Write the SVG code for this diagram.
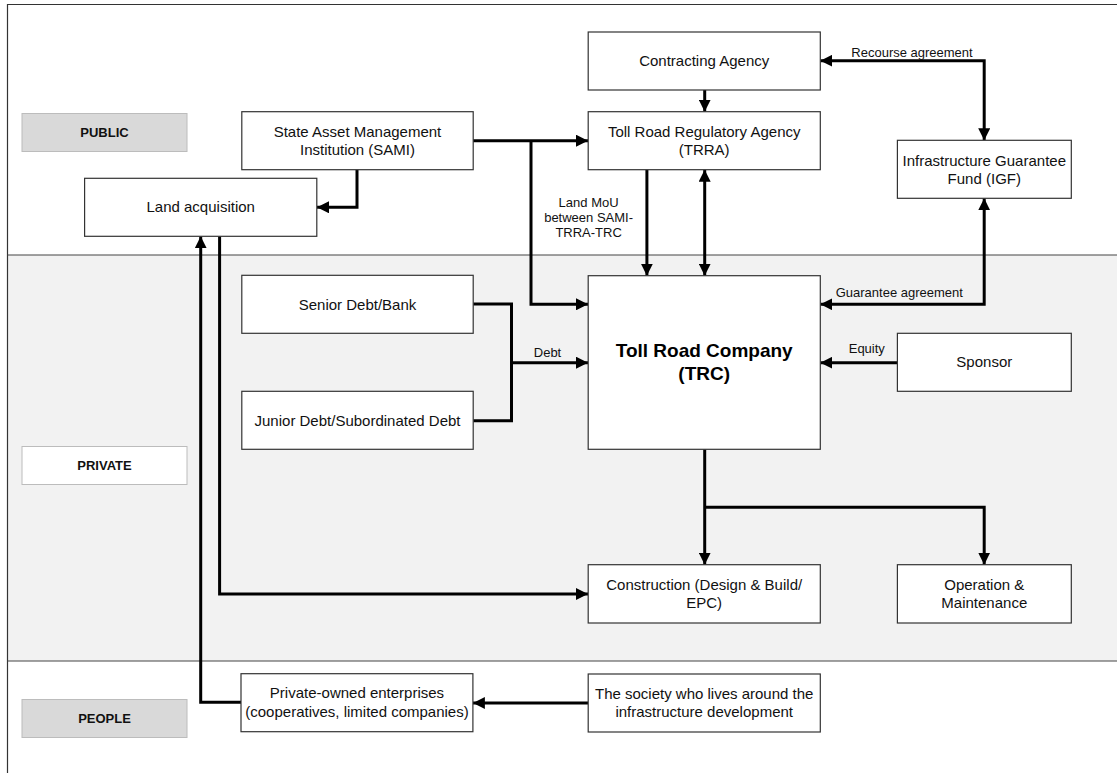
<svg xmlns="http://www.w3.org/2000/svg" width="1117" height="773" viewBox="0 0 1117 773">
<style>
.box{fill:#fff;stroke:#333;stroke-width:1.2}
.lane{stroke:#bcbcbc;stroke-width:1}
.t{font-family:"Liberation Sans",Arial,sans-serif;font-size:15px;fill:#111;text-anchor:middle}
.s{font-family:"Liberation Sans",Arial,sans-serif;font-size:13px;fill:#111;text-anchor:middle}
.lb{font-family:"Liberation Sans",Arial,sans-serif;font-size:13px;font-weight:bold;fill:#111;text-anchor:middle}
.big{font-family:"Liberation Sans",Arial,sans-serif;font-size:19px;font-weight:bold;fill:#000;text-anchor:middle}
.c{fill:none;stroke:#000;stroke-width:3;stroke-linejoin:miter}
.e{marker-end:url(#ah)}
.b{marker-start:url(#ah);marker-end:url(#ah)}
</style>
<defs>
<marker id="ah" markerUnits="userSpaceOnUse" markerWidth="12" markerHeight="12" refX="11" refY="5.5" orient="auto-start-reverse" viewBox="0 0 11 11">
<path d="M0,0 L11,5.5 L0,11 z" fill="#000"/>
</marker>
</defs>
<g id="background">
<rect x="0" y="0" width="1117" height="773" fill="#fff"/>
<rect x="7.5" y="255" width="1110" height="406" fill="#f2f2f2"/>
<path d="M7.5,773 V4.5 H1117" fill="none" stroke="#333" stroke-width="1.2"/>
<path d="M7.5,255 H1117 M7.5,661 H1117" fill="none" stroke="#444" stroke-width="1.2"/>
</g>
<g id="lane-public">
<rect class="lane" x="22" y="113.5" width="165" height="38" fill="#d9d9d9"/>
<text class="lb" x="104.5" y="137">PUBLIC</text>
</g>
<g id="lane-private">
<rect class="lane" x="22" y="446.5" width="165" height="38" fill="#fff"/>
<text class="lb" x="104.5" y="470">PRIVATE</text>
</g>
<g id="lane-people">
<rect class="lane" x="22" y="699.5" width="165" height="38" fill="#d9d9d9"/>
<text class="lb" x="104.5" y="723">PEOPLE</text>
</g>
<g id="connectors">
<path class="c e" d="M473,140.7 H588"/>
<path class="c e" d="M531,140.7 V304.3 H588"/>
<path class="c e" d="M357,169.7 V207.3 H317"/>
<path class="c e" d="M219.6,236.3 V594 H588"/>
<path class="c e" d="M241,702.3 H200.7 V236.3"/>
<path class="c e" d="M704.7,90 V111.7"/>
<path class="c b" d="M820.3,60.7 H984.2 V140.3"/>
<path class="c e" d="M646.9,169.7 V275.7"/>
<path class="c b" d="M704.7,169.7 V275.7"/>
<path class="c b" d="M984.2,198.3 V304.3 H820.3"/>
<path class="c e" d="M897.4,362.7 H820.3"/>
<path class="c" d="M473.2,304 H511.5 V420.7 H473.2"/>
<path class="c e" d="M511.5,362.7 H588"/>
<path class="c e" d="M704.7,449.3 V564.7"/>
<path class="c e" d="M704.7,507.3 H984.2 V564.7"/>
<path class="c e" d="M588.2,703 H472.9"/>
<text class="s" x="912" y="56.5">Recourse agreement</text>
<text class="s" x="588.6" y="206.5">Land MoU</text>
<text class="s" x="588.6" y="222">between SAMI-</text>
<text class="s" x="588.6" y="237">TRRA-TRC</text>
<text class="s" x="899.3" y="297">Guarantee agreement</text>
<text class="s" x="866.8" y="353">Equity</text>
<text class="s" x="547.5" y="356.5">Debt</text>
</g>
<g id="sami">
<rect class="box" x="241.8" y="111.7" width="231.4" height="58"/>
<text class="t" x="357.5" y="136.5">State Asset Management</text>
<text class="t" x="357.5" y="154.5">Institution (SAMI)</text>
</g>
<g id="land-acquisition">
<rect class="box" x="84.6" y="178.3" width="232.2" height="58"/>
<text class="t" x="200.7" y="212">Land acquisition</text>
</g>
<g id="contracting-agency">
<rect class="box" x="588.2" y="32" width="232.1" height="58"/>
<text class="t" x="704.2" y="66">Contracting Agency</text>
</g>
<g id="trra">
<rect class="box" x="588.2" y="111.7" width="232.1" height="58"/>
<text class="t" x="704.2" y="136.5">Toll Road Regulatory Agency</text>
<text class="t" x="704.2" y="154.5">(TRRA)</text>
</g>
<g id="igf">
<rect class="box" x="897.4" y="140.3" width="173.9" height="58"/>
<text class="t" x="984.3" y="165.5">Infrastructure Guarantee</text>
<text class="t" x="984.3" y="183.5">Fund (IGF)</text>
</g>
<g id="trc">
<rect class="box" x="588.2" y="275.7" width="232.1" height="173.6"/>
<text class="big" x="704.2" y="356.5">Toll Road Company</text>
<text class="big" x="704.2" y="380">(TRC)</text>
</g>
<g id="senior-debt">
<rect class="box" x="241.8" y="275.3" width="231.4" height="58"/>
<text class="t" x="357.5" y="309.5">Senior Debt/Bank</text>
</g>
<g id="junior-debt">
<rect class="box" x="241.8" y="391.3" width="231.4" height="58"/>
<text class="t" x="357.5" y="425.5">Junior Debt/Subordinated Debt</text>
</g>
<g id="sponsor">
<rect class="box" x="897.4" y="333.3" width="173.9" height="58"/>
<text class="t" x="984.3" y="367">Sponsor</text>
</g>
<g id="construction">
<rect class="box" x="588.2" y="564.7" width="232.1" height="58.3"/>
<text class="t" x="704.2" y="590">Construction (Design &amp; Build/</text>
<text class="t" x="704.2" y="608">EPC)</text>
</g>
<g id="operation-maintenance">
<rect class="box" x="897.4" y="564.7" width="173.9" height="58.3"/>
<text class="t" x="984.3" y="590">Operation &amp;</text>
<text class="t" x="984.3" y="608">Maintenance</text>
</g>
<g id="private-owned">
<rect class="box" x="241" y="673.7" width="231.9" height="58"/>
<text class="t" x="357" y="698">Private-owned enterprises</text>
<text class="t" x="357" y="716.5">(cooperatives, limited companies)</text>
</g>
<g id="society">
<rect class="box" x="588.2" y="674" width="232.1" height="58"/>
<text class="t" x="704.2" y="698.5">The society who lives around the</text>
<text class="t" x="704.2" y="716.5">infrastructure development</text>
</g>
</svg>
